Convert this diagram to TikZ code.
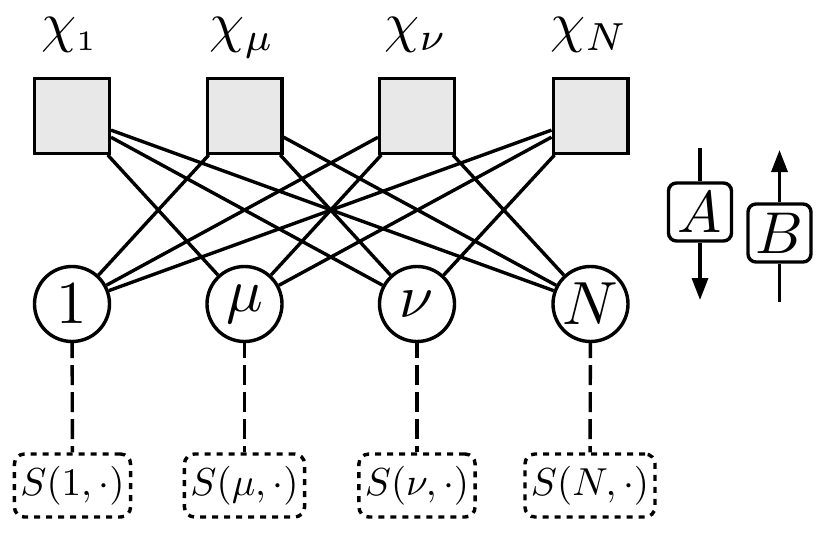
\documentclass[tikz,border=0pt]{standalone}
\usepackage{fix-cm}
\usepackage{graphicx}
\usetikzlibrary{arrows.meta}
\definecolor{sqfill}{RGB}{232,232,232}
\newcommand{\VarLab}[1]{\scalebox{3.05}{$#1$}}
\newcommand{\ChiLab}[1]{\scalebox{2.8}{$#1$}}
\newcommand{\SLab}[1]{\scalebox{1.95}{$#1$}}
\newcommand{\OpLab}[1]{\scalebox{2.95}{$#1$}}
\begin{document}
\begin{tikzpicture}[x=0.5pt,y=-0.5pt, line width=1.7pt,
  every node/.style={font=\fontsize{10}{12}\selectfont},
  factor/.style={draw, fill=sqfill, minimum size=37.3pt, inner sep=0pt},
  var/.style={draw, circle, minimum size=37.5pt, inner sep=0pt},
  chilabel/.style={anchor=base, inner sep=0pt},
  sbox/.style={draw, rounded corners=5pt, dash pattern=on 3pt off 3pt, minimum height=31.5pt, inner xsep=3pt, inner ysep=0pt},
  opbox/.style={draw, rounded corners=4pt, minimum width=31.5pt, minimum height=29pt, inner sep=0pt},
  link/.style={dash pattern=on 10pt off 3.5pt, dash phase=2.5pt},
  tip/.style={-{Triangle[length=11pt,width=8pt]}}
]
\useasboundingbox (0,0) rectangle (830,535);

% factor squares
\node[factor] (f1) at (72,116) {};
\node[factor] (f2) at (244.5,116) {};
\node[factor] (f3) at (417,116) {};
\node[factor] (f4) at (590.5,116) {};

% labels
\node[chilabel] (l1) at (69.5,42) {\ChiLab{\chi_{\scriptscriptstyle 1}}};
\node[chilabel] (l2) at (242,42) {\ChiLab{\chi_\mu}};
\node[chilabel] (l3) at (416,42) {\ChiLab{\chi_\nu}};
\node[chilabel] (l4) at (589,42) {\ChiLab{\chi_N}};

% variable circles
\node[var] (v1) at (72,304) {\VarLab{1}};
\node[var] (v2) at (244.5,304) {\VarLab{\mu}};
\node[var] (v3) at (417,304) {\VarLab{\nu}};
\node[var] (v4) at (590.5,304) {\VarLab{N}};

% edges
\foreach \i in {1,...,4}{
  \foreach \j in {1,...,4}{
    \ifnum\i=\j\else\draw (f\i) -- (v\j);\fi
  }
}

% S boxes
\node[sbox] (s1) at (72.5,485.5) {\SLab{S(1,\cdot)}};
\node[sbox] (s2) at (244.5,485.5) {\SLab{S(\mu,\cdot)}};
\node[sbox] (s3) at (417,485.5) {\SLab{S(\nu,\cdot)}};
\node[sbox] (s4) at (590,485.5) {\SLab{S(N,\cdot)}};

\foreach \i in {1,...,4}{\draw[link] (v\i) -- (s\i);}

% A and B operators
\node[opbox] (A) at (700,212) {\OpLab{A}};
\node[opbox] (B) at (779.5,233) {\OpLab{B}};
\coordinate (aT) at (700,148);
\coordinate (aB) at (700,300);
\coordinate (bT) at (779.5,150);
\coordinate (bB) at (779.5,302);
\draw (aT) -- (A);
\draw[tip] (A) -- (aB);
\draw[tip] (B) -- (bT);
\draw (B) -- (bB);
\end{tikzpicture}
\end{document}
